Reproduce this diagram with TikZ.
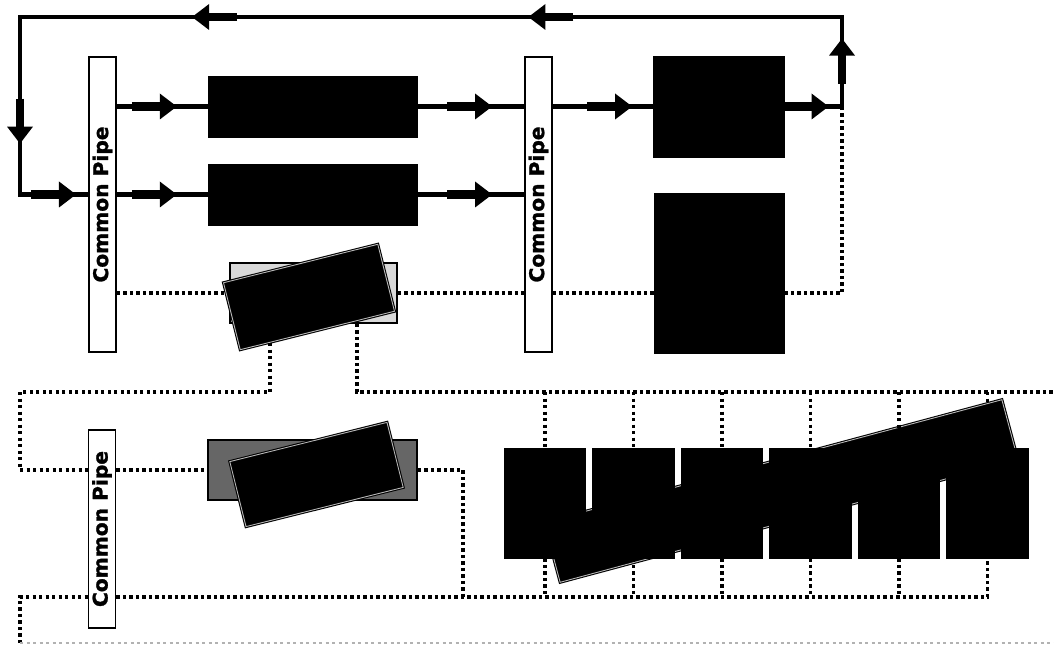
\documentclass[tikz,border=0pt]{standalone}
\usepackage{fontspec}
\newfontfamily\pipefont{DejaVu Sans Bold}[FakeBold=1.3]
\usetikzlibrary{decorations.markings}

\begin{document}
\begin{tikzpicture}[x=0.02cm, y=-0.02cm,
    blk/.style={draw, fill=black, inner sep=0},
    pipe/.style={draw, line width=1pt, fill=white, inner sep=0, minimum width=0.54cm,
      label={[rotate=90, font=\pipefont\fontsize{11.5}{11.5}\selectfont]center:Common Pipe}},
    tray/.style={draw, line width=1pt, inner sep=0},
    tilt/.style={draw=black, double=gray!55, double distance=0.5pt, line width=0.6pt,
      fill=black, inner sep=0, rotate=#1},
    flow/.style={line width=2.8pt, line join=miter},
    tip/.style={postaction={decorate, decoration={markings, mark=at position #1 with {
        \draw[line width=4.6pt] (-45,0) -- (-15,0);
        \fill (0,0) -- (-17,13) -- (-17,-13) -- cycle;}}}},
    dots/.style={line width=1.8pt, dash pattern=on 1.8pt off 1.9pt}]
        \useasboundingbox (0,0) rectangle (1054,645);
        \node[pipe, minimum height=5.9cm]  (p1) at (102.5,204.5) {};
        \node[pipe, minimum height=5.9cm]  (p2) at (538.5,204.5) {};
        \node[pipe, minimum height=3.96cm] (p3) at (102,529) {};
        \node[blk, minimum width=4.18cm, minimum height=1.22cm] (a) at (312.5,106.5) {};
        \node[blk, minimum width=4.18cm, minimum height=1.22cm] (b) at (312.5,194.5) {};
        \node[blk, minimum width=2.62cm, minimum height=2.02cm] (c) at (719,106.5) {};
        \node[blk, minimum width=2.6cm, minimum height=3.2cm]   (d) at (719,273) {};
        \node[tray, fill=black!15, minimum width=3.34cm, minimum height=1.2cm] (g1) at (313.5,293) {};
        \node[tilt=14, minimum width=3.18cm, minimum height=1.38cm] (r1) at (309,297) {};
        \node[tray, fill=black!60, minimum width=4.18cm, minimum height=1.2cm] (g2) at (312.5,470) {};
        \node[tilt=14, minimum width=3.24cm, minimum height=1.34cm] (r2) at (316.5,474.5) {};
        \node[tilt=15, minimum width=9.48cm, minimum height=1.24cm] (r3) at (781,491) {};
        \foreach \i in {1,...,6}
            \node[blk, minimum width=1.63cm, minimum height=2.2cm] (s\i) at (456.5+88.5*\i,503) {};
        \coordinate (turn) at (842,106.5);
        \coordinate (ne) at (842,17);
        \coordinate (nw) at (20,17);
        \coordinate (sw) at (20,194.5);
        \coordinate (k1) at (270,343);
        \coordinate (m1) at (270,392);
        \coordinate (m2) at (357,392);
        \coordinate (w1) at (20,392);
        \coordinate (w2) at (20,470);
        \coordinate (w3) at (20,597);
        \coordinate (w4) at (20,643);
        \coordinate (v1) at (463,470);
        \coordinate (v2) at (463,597);
        \coordinate (e1) at (1054,392);
        \coordinate (e2) at (1054,643);
        \draw[flow, tip=0.036, tip=0.103, tip=0.379, tip=0.656, tip=0.902, tip=0.99]
            (c.east) -- (turn) -- (ne) -- (nw) -- (sw) -- (p1.west |- sw);
        \draw[flow, tip=0.66] (p1.east |- a) -- (a.west);
        \draw[flow, tip=0.66] (p1.east |- b) -- (b.west);
        \draw[flow, tip=0.70] (a.east) -- (p2.west |- a);
        \draw[flow, tip=0.70] (b.east) -- (p2.west |- b);
        \draw[flow, tip=0.79] (p2.east |- c) -- (c.west);
        \draw[dots] (p1.east |- g1) -- (g1.west);
        \draw[dots] (g1.east) -- (p2.west |- g1);
        \draw[dots] (p2.east |- g1) -- (d.west |- g1);
        \draw[dots] (d.east |- g1) -- (turn |- g1) -- (turn);
        \draw[dots] (k1) -- (m1) -- (w1) -- (w2) -- (p3.west |- w2);
        \draw[dots] (p3.east |- w2) -- (g2.west);
        \draw[dots] (g2.east) -- (v1) -- (v2);
        \draw[dots] (g1.south -| m2) -- (m2) -- (e1);
        \foreach \i in {1,...,6}
            \draw[dots] (s\i.north |- e1) -- (s\i.north);
        \draw[dots] (w4) -- (w3) -- (p3.west |- w3);
        \draw[dots] (p3.east |- w3) -- (s6.south |- w3) -- (s6.south);
        \foreach \i in {1,...,5}
            \draw[dots] (s\i.south) -- (s\i.south |- w3);
        \draw[dots, gray!60, line width=1.2pt] (w4) -- (e2);
\end{tikzpicture}
\end{document}
